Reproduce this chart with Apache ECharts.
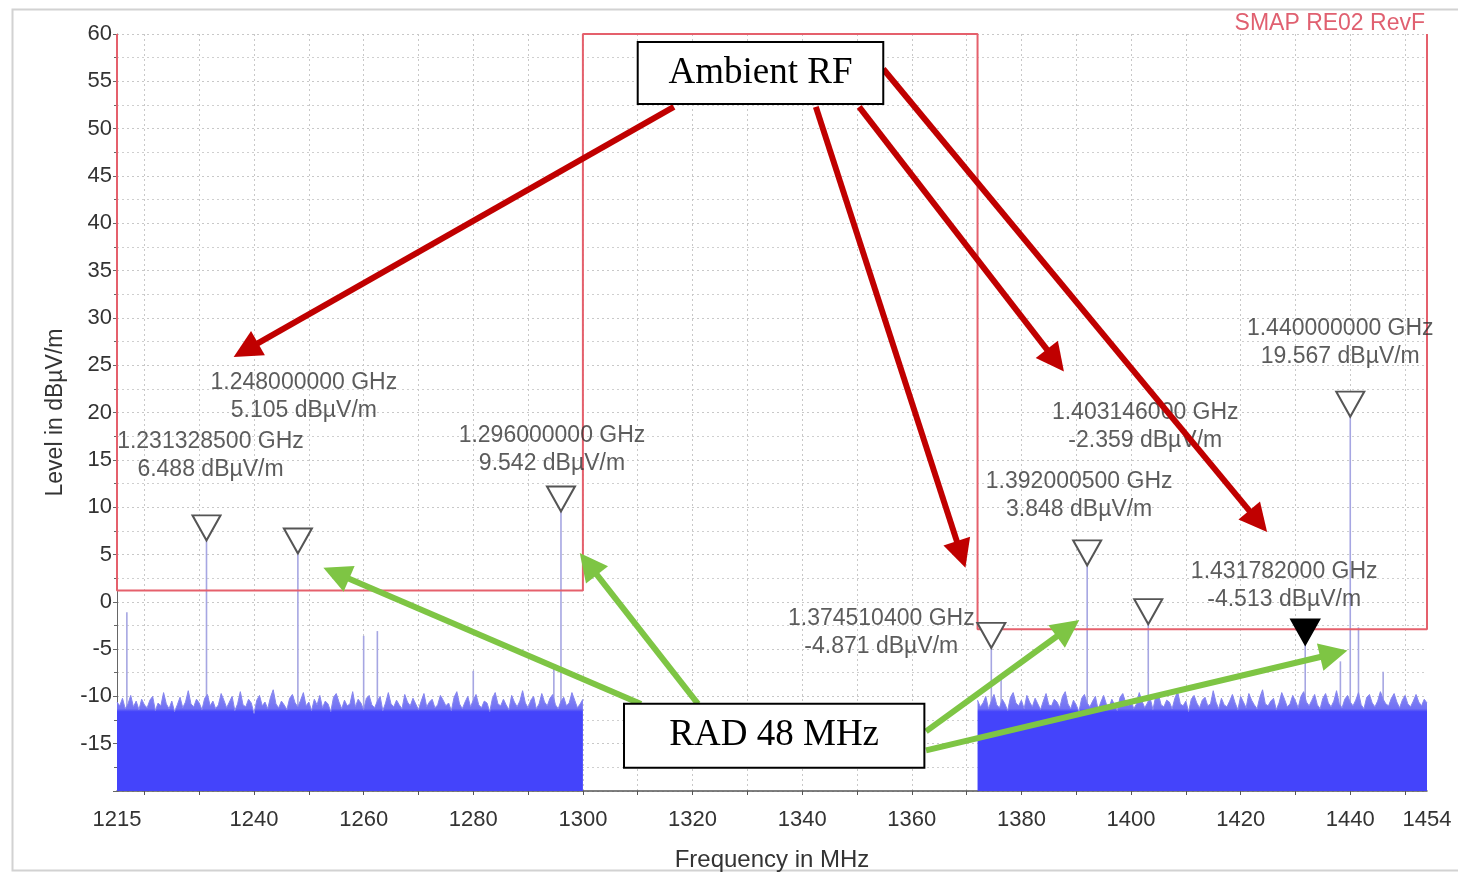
<!DOCTYPE html>
<title>SMAP RE02</title>
<style>
body {
    margin: 0;
}
#echart {
    height: 873px;
    width: 1458px;
}
</style>
<div id='echart'></div>
<script src='https://cdn.jsdelivr.net/npm/echarts@6.0.0/dist/echarts.min.js'></script>
<script>
// measured trace, 0.5 MHz steps
let NOISE_A_START = 1215
let NOISE_B_START = 1372
let NOISE_STEP = 0.5
let noiseA = [
    -10.6,-11.0,-10.2,-11.3,-10.8,-9.9,-11.1,-10.5,-11.4,-10.3,
    -10.9,-11.2,-10.4,-10.0,-11.5,-10.7,-11.0,-9.6,-10.8,-11.3,
    -10.5,-11.6,-10.9,-10.1,-11.2,-10.6,-9.4,-10.8,-11.1,-10.3,
    -10.7,-11.4,-10.2,-9.8,-11.0,-10.5,-11.3,-10.9,-9.7,-10.4,
    -11.2,-10.6,-10.0,-11.5,-10.8,-9.5,-10.9,-11.1,-10.3,-10.7,
    -11.8,-10.4,-9.9,-11.0,-10.6,-11.3,-10.1,-9.3,-10.8,-11.2,
    -10.5,-10.9,-11.4,-10.2,-9.8,-10.7,-11.1,-10.4,-9.6,-11.0,
    -10.6,-11.5,-10.3,-10.9,-9.9,-11.2,-10.5,-10.8,-11.6,-10.1,
    -9.7,-10.6,-11.3,-10.4,-11.0,-10.8,-9.5,-11.1,-10.3,-10.7,
    -11.4,-10.2,-9.9,-10.9,-11.2,-10.5,-10.0,-11.5,-10.7,-9.6,
    -10.8,-11.1,-10.4,-10.9,-11.3,-9.8,-10.6,-11.0,-10.2,-10.8,
    -11.4,-10.5,-9.7,-11.1,-10.6,-10.3,-11.2,-10.9,-9.9,-10.4,
    -11.0,-10.7,-11.5,-10.1,-9.5,-10.8,-11.3,-10.6,-10.0,-11.1,
    -10.4,-9.8,-10.9,-11.2,-10.5,-10.7,-11.6,-10.2,-9.6,-10.8,
    -11.0,-10.3,-10.9,-11.4,-9.9,-10.6,-11.1,-10.5,-9.4,-10.7,
    -11.2,-10.4,-10.0,-11.3,-10.8,-9.7,-10.6,-11.0,-10.2,-9.8,
    -10.9,-11.3,-10.5,-10.1,-11.0,-10.7,-9.6,-10.4,-11.2,-10.8,
    -10.3,
]
let noiseB = [
    -10.4,-11.1,-10.7,-10.0,-11.3,-10.5,-9.8,-10.9,-11.2,-10.3,
    -10.8,-11.5,-10.1,-9.6,-10.7,-11.0,-10.4,-11.3,-9.9,-10.6,
    -11.1,-10.2,-10.8,-11.4,-10.5,-9.7,-10.9,-11.0,-10.3,-10.6,
    -11.2,-10.0,-9.5,-10.8,-11.3,-10.4,-10.9,-11.6,-10.2,-9.8,
    -10.7,-11.1,-10.5,-10.0,-11.4,-10.6,-9.9,-10.8,-11.2,-10.3,
    -10.9,-11.5,-10.1,-9.7,-10.6,-11.0,-10.4,-11.3,-10.8,-9.6,
    -10.5,-11.2,-10.7,-10.2,-11.4,-10.0,-9.8,-10.9,-11.1,-10.4,
    -10.6,-11.3,-10.2,-9.5,-10.8,-11.0,-10.5,-11.6,-10.3,-9.9,
    -10.7,-11.2,-10.4,-10.1,-11.0,-10.8,-9.4,-10.6,-11.3,-10.2,
    -10.9,-11.1,-10.5,-9.8,-10.7,-11.4,-10.0,-10.6,-11.2,-9.7,
    -10.4,-10.9,-11.3,-10.1,-9.3,-10.8,-11.0,-10.5,-10.2,-11.4,
    -10.7,-9.6,-10.3,-11.1,-10.8,-9.9,-10.5,-11.2,-10.0,-9.5,
    -10.6,-11.0,-10.4,-9.8,-10.9,-11.3,-10.2,-9.7,-10.7,-11.1,
    -10.5,-9.4,-10.8,-11.2,-10.3,-9.9,-10.6,-11.0,-10.4,-9.6,
    -10.9,-11.3,-10.1,-9.8,-10.7,-11.1,-10.5,-9.5,-10.3,-10.8,
    -11.0,-10.2,-9.7,-10.6,-11.2,-10.4,-9.9,-10.8,-11.1,-10.5,
    -9.8,-10.6,-11.0,-10.3,-10.7,
]
// markers
let markerFreq = [1231.3285, 1248.0, 1296.0, 1374.5104, 1392.0005, 1403.146, 1431.782, 1440.0]
let markerLevel = [6.488, 5.105, 9.542, -4.871, 3.848, -2.359, -4.513, 19.567]
let activeMarker = 1431.782
// other narrow spikes
let spikeFreq = [1216.8, 1260.0, 1262.5, 1280.0, 1294.7, 1376.3, 1438.2, 1441.5, 1446.0]
let spikeLevel = [-1.1, -3.6, -3.1, -7.3, -7.1, -7.9, -6.3, -2.7, -7.4]
// limit line
let limitFreq = [1215, 1215, 1300, 1300, 1372, 1372, 1454, 1454]
let limitLevel = [60, 1.2, 1.2, 60, 60, -2.9, -2.9, 60]
// axis ticks
let tickFreq = [1220, 1230, 1240, 1250, 1260, 1270, 1280, 1290, 1300, 1310, 1320, 1330, 1340, 1350, 1360, 1370, 1380, 1390, 1400, 1410, 1420, 1430, 1440, 1450]
let labelFreq = [1215, 1240, 1260, 1280, 1300, 1320, 1340, 1360, 1380, 1400, 1420, 1440, 1454]
// annotations
let ambientArrows = [
    [[1316.6, 52.3], [1238.5, 26.6]],
    [[1342.5, 52.3], [1369.0, 5.0]],
    [[1350.4, 52.3], [1386.2, 25.5]],
    [[1354.8, 56.3], [1423.2, 8.5]],
]
let radArrows = [
    [[1310.6, -10.8], [1255.0, 3.0]],
    [[1321.0, -10.8], [1301.0, 4.0]],
    [[1362.6, -13.7], [1388.5, -2.8]],
    [[1362.6, -15.7], [1437.0, -5.5]],
]
let boxes = [
    {text: 'Ambient RF', from: [1310.0, 59.15], to: [1354.8, 52.6]},
    {text: 'RAD 48 MHz', from: [1307.5, -10.77], to: [1362.3, -17.53]},
]
let labelOffsets = [[4, -85], [6, -157], [-9, -62], [-110, -15], [-8, -70], [-3, -197], [-21, -59], [-10, -74]]

let FONT = 'Liberation Sans'
let Y_MIN = -20
let RED = '#c00000'
let GREEN = '#7ec544'
let echart = echarts.init(document.querySelector('#echart'))

function trace(values, start) {
    return values.map((v, i) => [start + i * NOISE_STEP, v])
}
function noiseFill(values) {
    let top = Math.max(...values)
    let stop = (top + 11.3) / (top - Y_MIN)
    return new echarts.graphic.LinearGradient(0, 0, 0, 1, [
        {offset: 0, color: '#8c8cf2'},
        {offset: stop, color: '#7070f4'},
        {offset: Math.min(stop + 0.03, 1), color: '#4444fb'},
        {offset: 1, color: '#4444fb'},
    ])
}
let noise_defaults = {
    type: 'line',
    showSymbol: false,
    silent: true,
    z: 2,
    lineStyle: {width: 1, color: '#8585ee'},
    areaStyle: {origin: 'start', opacity: 1},
}
let spikes = markerFreq.map((f, i) => [f, markerLevel[i]])
    .concat(spikeFreq.map((f, i) => [f, spikeLevel[i]]))
function arrows(pairs, color) {
    return pairs.map(([a, b]) => [
        {coord: a, lineStyle: {color, width: 6, type: 'solid'}, itemStyle: {color}},
        {coord: b, lineStyle: {color, width: 6, type: 'solid'}, itemStyle: {color}},
    ])
}

let option = {
    animation: false,
    title: {
        text: 'SMAP RE02 RevF', right: 28, top: 7,
        textStyle: {color: '#e06070', fontSize: 23, fontWeight: 'normal', fontFamily: FONT},
    },
    grid: {left: 117, right: 31, top: 34, bottom: 82, outerBoundsMode: 'none'},
    graphic: [{
        type: 'rect', left: 10, top: 7, silent: true, z: -10,
        shape: {width: 1470, height: 861},
        style: {fill: 'none', stroke: '#d2d2d2', lineWidth: 2},
    }],
    xAxis: {
        type: 'value', min: 1215, max: 1454,
        name: 'Frequency in MHz', nameLocation: 'middle', nameGap: 57,
        nameTextStyle: {fontSize: 24, color: '#333', fontFamily: FONT},
        axisLine: {onZero: false, lineStyle: {color: '#555', width: 1.5}},
        axisTick: {customValues: tickFreq, length: 4, lineStyle: {color: '#555'}},
        axisLabel: {customValues: labelFreq, fontSize: 22, color: '#333', fontFamily: FONT, margin: 18, formatter: (v) => String(v)},
        splitLine: {show: false},
    },
    yAxis: {
        type: 'value', min: Y_MIN, max: 60, interval: 5,
        name: 'Level in dBµV/m', nameLocation: 'middle', nameGap: 50,
        nameTextStyle: {fontSize: 23, color: '#333', fontFamily: FONT},
        axisLine: {show: true, lineStyle: {color: '#666'}},
        axisTick: {show: true, length: 4, lineStyle: {color: '#666'}},
        minorTick: {show: true, splitNumber: 2, length: 3, lineStyle: {color: '#666'}},
        axisLabel: {fontSize: 22, color: '#333', fontFamily: FONT, margin: 5, showMinLabel: false},
        splitLine: {lineStyle: {color: '#c8c8c8', type: [2, 3]}},
        minorSplitLine: {show: true, lineStyle: {color: '#cfcfcf', type: [2, 3]}},
    },
    series: [
        {
            name: 'grid', type: 'line', data: [], silent: true, z: 0,
            markLine: {
                silent: true, symbol: 'none', label: {show: false}, z: 0,
                lineStyle: {color: '#c8c8c8', type: [2, 3], width: 1},
                data: tickFreq.map(f => ({xAxis: f})),
            },
        },
        {
            name: 'spikes', type: 'custom', silent: true, z: 1,
            data: spikes,
            renderItem: function (params, api) {
                let a = api.coord([api.value(0), -12])
                let b = api.coord([api.value(0), api.value(1)])
                return {
                    type: 'line',
                    shape: {x1: a[0], y1: a[1], x2: b[0], y2: b[1]},
                    style: {stroke: '#a6a6e2', lineWidth: 1.6},
                }
            },
        },
        {...noise_defaults, name: 'trace A', data: trace(noiseA, NOISE_A_START), areaStyle: {...noise_defaults.areaStyle, color: noiseFill(noiseA)}},
        {...noise_defaults, name: 'trace B', data: trace(noiseB, NOISE_B_START), areaStyle: {...noise_defaults.areaStyle, color: noiseFill(noiseB)}},
        {
            name: 'limit', type: 'line', z: 3, silent: true, showSymbol: false, clip: false,
            data: limitFreq.map((f, i) => [f, limitLevel[i]]),
            lineStyle: {color: '#e5606c', width: 2},
        },
        {
            name: 'markers', type: 'scatter', z: 4, silent: true,
            symbol: 'path://M0,0 L28,0 L14,25 Z', symbolSize: [28, 25], symbolOffset: [0, '-50%'],
            data: markerFreq.map((f, i) => ({
                value: [f, markerLevel[i]],
                itemStyle: f === activeMarker ? {color: '#000', borderColor: '#000'} : {},
            })),
            itemStyle: {color: '#fff', borderColor: '#555', borderWidth: 2, opacity: 1},
        },
        {
            name: 'marker labels', type: 'scatter', z: 5, silent: true,
            symbolSize: 1, itemStyle: {color: 'rgba(0,0,0,0)'},
            data: markerFreq.map((f, i) => ({
                value: [f, markerLevel[i]],
                label: {offset: labelOffsets[i]},
            })),
            label: {
                show: true, position: 'inside', fontSize: 23, lineHeight: 28,
                color: '#333', fontFamily: FONT, align: 'center',
                formatter: (p) => (p.value[0] / 1000).toFixed(9) + ' GHz\n' + p.value[1].toFixed(3) + ' dBµV/m',
            },
        },
        {
            name: 'arrows', type: 'line', data: [], z: 6, silent: true,
            markLine: {
                silent: true, animation: false, symbol: ['none', 'triangle'], symbolSize: 28, z: 9,
                label: {show: false}, emphasis: {disabled: true},
                lineStyle: {type: 'solid', width: 6},
                data: [...arrows(ambientArrows, RED), ...arrows(radArrows, GREEN)],
            },
        },
        {
            name: 'boxes', type: 'line', data: [], z: 7, silent: true,
            markArea: {
                silent: true, z: 10,
                itemStyle: {color: '#fff', borderColor: '#000', borderWidth: 2, opacity: 1},
                label: {show: true, position: 'inside', fontSize: 37, color: '#000', fontFamily: 'Liberation Serif'},
                data: boxes.map(b => [{coord: b.from, name: b.text}, {coord: b.to}]),
            },
        },
    ],
}
echart.setOption(option)
</script>
